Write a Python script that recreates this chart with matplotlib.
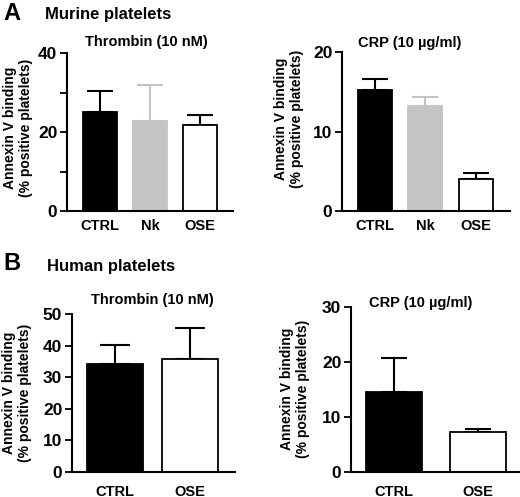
import matplotlib
matplotlib.use("Agg")
import matplotlib.pyplot as plt

plt.rcParams['font.family'] = ['Liberation Sans', 'DejaVu Sans']
plt.rcParams['font.weight'] = 'bold'

W, H = 520, 497

# data
murine_groups = ["CTRL", "Nk", "OSE"]
murine_thrombin = [25.1, 22.8, 21.8]
murine_thrombin_err = [5.3, 9.1, 2.5]
murine_crp = [15.2, 13.2, 4.0]
murine_crp_err = [1.4, 1.1, 0.8]

human_groups = ["CTRL", "OSE"]
human_thrombin = [34.2, 35.8]
human_thrombin_err = [6.0, 9.8]
human_crp = [14.5, 7.3]
human_crp_err = [6.2, 0.5]

murine_colors = ["black", "#c4c4c4", "white"]
human_colors = ["black", "white"]


def px_axes(fig, left, top, right, bottom):
    return fig.add_axes([left / W, 1 - bottom / H, (right - left) / W, (bottom - top) / H])


def bar_panel(ax, groups, vals, errs, colors, width, xlim, ylim, yticks, ylabels):
    x = list(range(len(groups)))
    for i in x:
        ecol = "black" if colors[i] != "#c4c4c4" else "#c4c4c4"
        ax.bar(i, vals[i], width=width, color=colors[i], edgecolor=ecol, linewidth=1.3, zorder=2)
        ax.errorbar(i, vals[i], yerr=[[0], [errs[i]]], fmt="none", ecolor=ecol,
                    elinewidth=1.5, capsize=width * 14, capthick=1.5, zorder=1)
    ax.set_xlim(*xlim)
    ax.set_ylim(*ylim)
    ax.set_yticks(yticks)
    ax.set_yticklabels(ylabels, fontsize=12.5, fontweight="bold")
    ax.set_xticks(x)
    ax.set_xticklabels(groups, fontsize=10.5, fontweight="bold")
    ax.tick_params(axis="x", length=0, pad=6)
    ax.tick_params(axis="y", length=5, width=1.3, pad=2)
    for s in ["top", "right"]:
        ax.spines[s].set_visible(False)
    for s in ["left", "bottom"]:
        ax.spines[s].set_linewidth(1.5)


fig = plt.figure(figsize=(W / 100, H / 100), dpi=100)

ax1 = px_axes(fig, 67, 53, 233, 211)
bar_panel(ax1, murine_groups, murine_thrombin, murine_thrombin_err, murine_colors, 0.68,
          (-0.66, 2.66), (0, 40), [0, 10, 20, 30, 40], ["0", "", "20", "", "40"])

ax2 = px_axes(fig, 342, 52, 510, 211)
bar_panel(ax2, murine_groups, murine_crp, murine_crp_err, murine_colors, 0.67,
          (-0.65, 2.68), (0, 20), [0, 10, 20], ["0", "10", "20"])

ax3 = px_axes(fig, 72, 314, 235, 472)
bar_panel(ax3, human_groups, human_thrombin, human_thrombin_err, human_colors, 0.75,
          (-0.57, 1.6), (0, 50), [0, 10, 20, 30, 40, 50], ["0", "10", "20", "30", "40", "50"])
ax3.tick_params(axis="x", pad=9)

ax4 = px_axes(fig, 351, 307, 521, 472)
bar_panel(ax4, human_groups, human_crp, human_crp_err, human_colors, 0.67,
          (-0.515, 1.51), (0, 30), [0, 10, 20, 30], ["0", "10", "20", "30"])
ax4.tick_params(axis="x", pad=9)

ylab = "Annexin V binding\n(% positive platelets)"
for xp, yp in [(18, 128), (289, 119), (17, 393), (295, 389)]:
    fig.text(xp / W, 1 - yp / H, ylab, rotation=90, ha="center", va="center",
             fontsize=10, fontweight="bold", linespacing=1.1, multialignment="center")

fig.text(146 / W, 1 - 42 / H, "Thrombin (10 nM)", ha="center", va="center", fontsize=10.5, fontweight="bold")
fig.text(410 / W, 1 - 43 / H, "CRP (10 µg/ml)", ha="center", va="center", fontsize=10.5, fontweight="bold")
fig.text(152 / W, 1 - 300 / H, "Thrombin (10 nM)", ha="center", va="center", fontsize=10.5, fontweight="bold")
fig.text(421 / W, 1 - 303 / H, "CRP (10 µg/ml)", ha="center", va="center", fontsize=10.5, fontweight="bold")

fig.text(3 / W, 1 - 14 / H, "A", ha="left", va="center", fontsize=17, fontweight="bold")
fig.text(45 / W, 1 - 15 / H, "Murine platelets", ha="left", va="center", fontsize=12, fontweight="bold")
fig.text(3 / W, 1 - 264 / H, "B", ha="left", va="center", fontsize=17, fontweight="bold")
fig.text(47 / W, 1 - 266 / H, "Human platelets", ha="left", va="center", fontsize=12, fontweight="bold")

fig.savefig("out.png", dpi=100)
